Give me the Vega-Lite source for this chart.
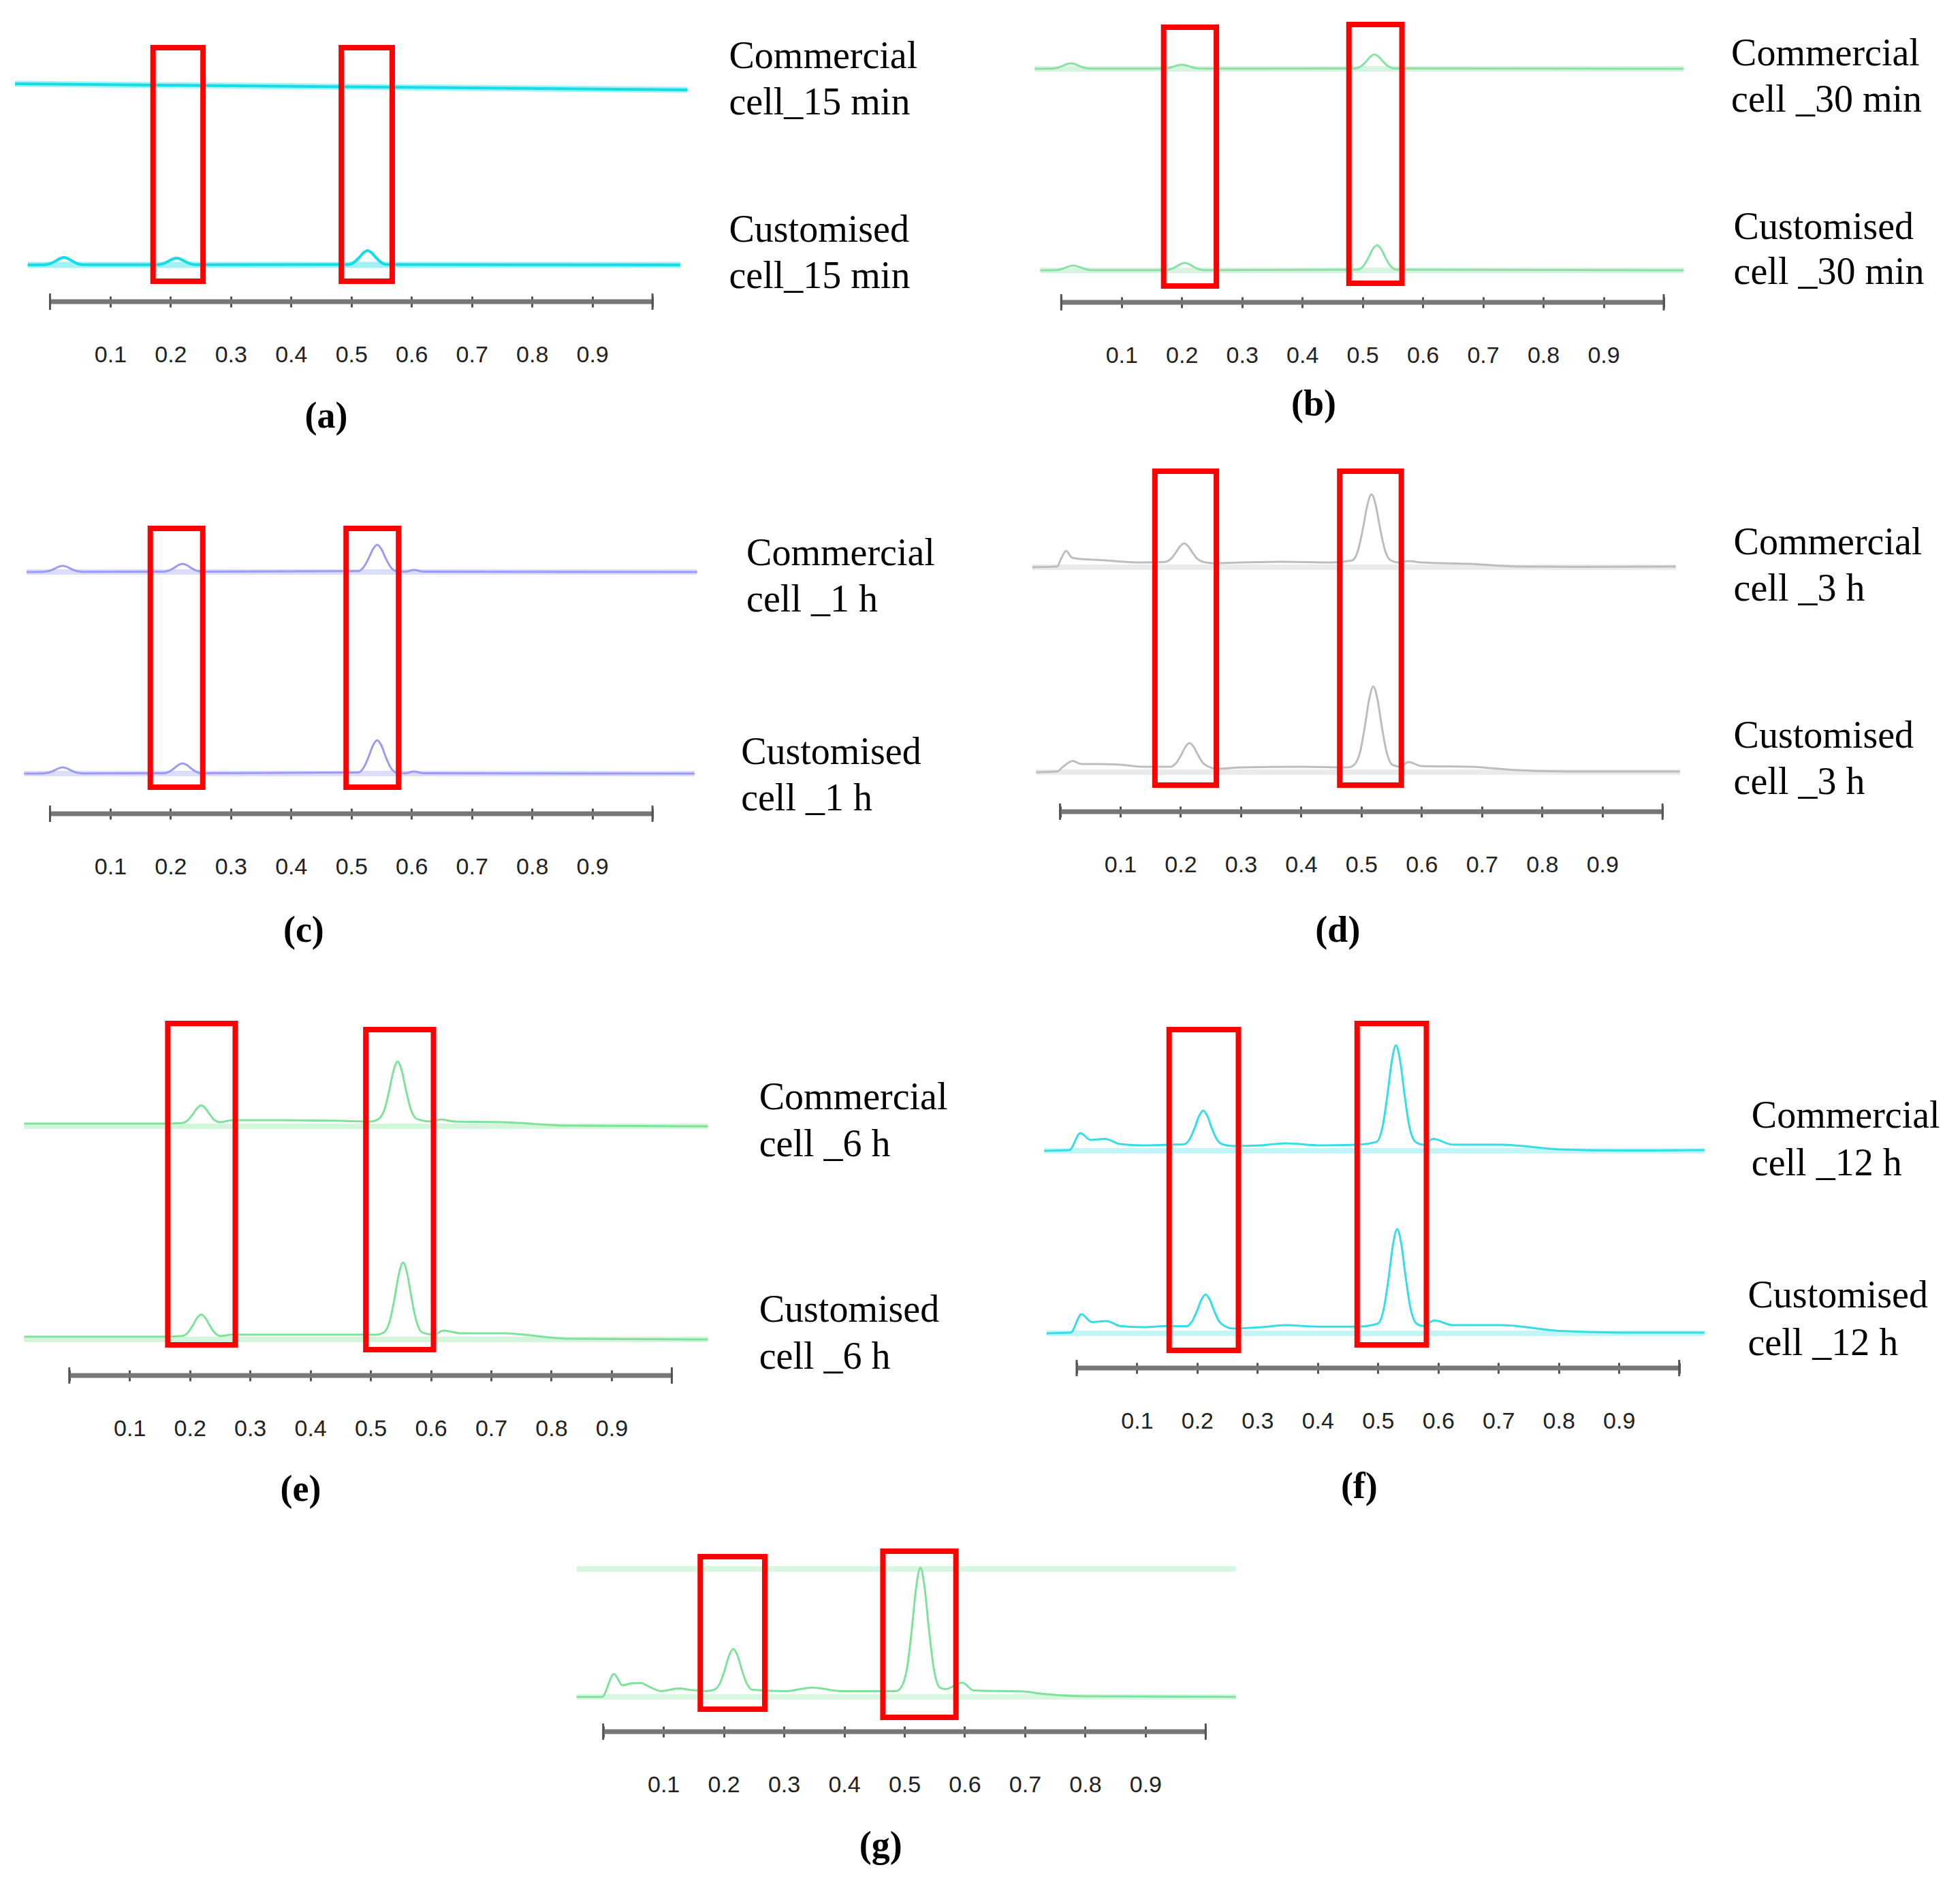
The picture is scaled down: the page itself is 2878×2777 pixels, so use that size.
{
"$schema": "https://vega.github.io/schema/vega-lite/v6.json",
"padding": 0,
"spacing": 0,
"background": "white",
"config": {
  "view": {"stroke": null},
  "axisX": {"domain": false, "grid": false, "tickSize": 16, "tickWidth": 3, "tickColor": "#555555", "labelPadding": 53, "labelFont": "Liberation Sans", "labelFontSize": 34, "labelColor": "#222222", "labelFlush": false, "labelOverlap": false},
  "text": {"font": "Liberation Serif", "fontSize": 56, "align": "left", "baseline": "middle", "color": "#000000"}
},
"vconcat": [
{"spacing": 0, "hconcat": [
{
 "width": 1440, "height": 665,
 "encoding": {
  "x": {"field": "x", "type": "quantitative", "title": null, "scale": {"domain": [-0.083, 1.5447], "nice": false, "zero": false}, "axis": {"values": [0,0.1,0.2,0.3,0.4,0.5,0.6,0.7,0.8,0.9,1], "labelExpr": "datum.value < 0.05 || datum.value > 0.95 ? '' : format(datum.value, '.1f')", "offset": -230}},
  "y": {"field": "y", "type": "quantitative", "scale": {"domain": [-222, 443], "nice": false, "zero": false}, "axis": null}
 },
 "layer": [
  {"data": {"values": [{"s":"C","x":-0.058,"y":320},{"s":"C","x":1.058,"y":311},{"s":"U","x":-0.037,"y":54},{"s":"U","x":1.046,"y":54}]},
   "mark": {"type": "line", "color": "#14DCE6", "strokeWidth": 9, "opacity": 0.4}, "encoding": {"detail": {"field": "s", "type": "nominal"}}},
  {"data": {"values": [
    {"s":"C","x":-0.058,"y":320},{"s":"C","x":0.5,"y":315.5},{"s":"C","x":1.058,"y":311},
    {"s":"U","x":-0.037,"y":54},{"s":"U","x":-0.009,"y":54.3},{"s":"U","x":0.001,"y":56},{"s":"U","x":0.009,"y":59.6},{"s":"U","x":0.016,"y":63.2},{"s":"U","x":0.023,"y":65},{"s":"U","x":0.030,"y":63.2},{"s":"U","x":0.037,"y":59.6},{"s":"U","x":0.045,"y":56},{"s":"U","x":0.055,"y":54.3},
    {"s":"U","x":0.178,"y":54.3},{"s":"U","x":0.188,"y":55.9},{"s":"U","x":0.196,"y":59.1},{"s":"U","x":0.203,"y":62.4},{"s":"U","x":0.21,"y":64},{"s":"U","x":0.217,"y":62.4},{"s":"U","x":0.224,"y":59.1},{"s":"U","x":0.232,"y":55.9},{"s":"U","x":0.242,"y":54.3},
    {"s":"U","x":0.495,"y":54.6},{"s":"U","x":0.505,"y":58},{"s":"U","x":0.513,"y":64.7},{"s":"U","x":0.52,"y":71.6},{"s":"U","x":0.527,"y":75},{"s":"U","x":0.534,"y":71.6},{"s":"U","x":0.541,"y":64.7},{"s":"U","x":0.549,"y":58},{"s":"U","x":0.559,"y":54.6},{"s":"U","x":1.046,"y":54}]},
   "mark": {"type": "line", "color": "#12DDE6", "strokeWidth": 4, "interpolate": "monotone"}, "encoding": {"detail": {"field": "s", "type": "nominal"}}},
  {"data": {"values": [{"x":0.171,"x2":0.254,"y":30,"y2":373},{"x":0.4835,"x2":0.568,"y":30,"y2":373}]},
   "mark": {"type": "rect", "filled": false, "stroke": "#FF0000", "strokeWidth": 8}, "encoding": {"x2": {"field": "x2"}, "y2": {"field": "y2"}}},
  {"data": {"values": [{"x":0,"x2":1,"y":0}]}, "mark": {"type": "rule", "color": "#777777", "strokeWidth": 7}, "encoding": {"x2": {"field": "x2"}}},
  {"data": {"values": [{"x":0,"y":-12,"y2":12},{"x":1,"y":-12,"y2":12}]}, "mark": {"type": "rule", "color": "#555555", "strokeWidth": 3}, "encoding": {"y2": {"field": "y2"}}},
  {"data": {"values": [{"x":1.127,"y":360,"label":"Commercial"},{"x":1.127,"y":292,"label":"cell_15 min"},{"x":1.127,"y":105,"label":"Customised"},{"x":1.127,"y":37,"label":"cell_15 min"}]},
   "mark": {"type": "text"}, "encoding": {"text": {"field": "label"}}},
  {"data": {"values": [{"x":0.4585,"y":-169,"label":"(a)"}]}, "mark": {"type": "text", "fontWeight": "bold", "align": "center", "fontSize": 54}, "encoding": {"text": {"field": "label"}}}
 ]
},
{
 "width": 1438, "height": 665,
 "encoding": {
  "x": {"field": "x", "type": "quantitative", "title": null, "scale": {"domain": [-0.1337, 1.4917], "nice": false, "zero": false}, "axis": {"values": [0,0.1,0.2,0.3,0.4,0.5,0.6,0.7,0.8,0.9,1], "labelExpr": "datum.value < 0.05 || datum.value > 0.95 ? '' : format(datum.value, '.1f')", "offset": -229}},
  "y": {"field": "y", "type": "quantitative", "scale": {"domain": [-221, 444], "nice": false, "zero": false}, "axis": null}
 },
 "layer": [
  {"data": {"values": [{"s":"C","x":-0.044,"y":343},{"s":"C","x":1.033,"y":343},{"s":"U","x":-0.035,"y":47},{"s":"U","x":1.033,"y":47}]},
   "mark": {"type": "line", "color": "#86E3A4", "strokeWidth": 8, "opacity": 0.35}, "encoding": {"detail": {"field": "s", "type": "nominal"}}},
  {"data": {"values": [
    {"s":"C","x":-0.044,"y":343},{"s":"C","x":-0.016,"y":343.2},{"s":"C","x":-0.006,"y":344.5},{"s":"C","x":0.002,"y":347.1},{"s":"C","x":0.009,"y":349.7},{"s":"C","x":0.016,"y":351},{"s":"C","x":0.023,"y":349.7},{"s":"C","x":0.030,"y":347.1},{"s":"C","x":0.038,"y":344.5},{"s":"C","x":0.048,"y":343.2},
    {"s":"C","x":0.168,"y":343.2},{"s":"C","x":0.178,"y":344.1},{"s":"C","x":0.186,"y":346.1},{"s":"C","x":0.193,"y":348},{"s":"C","x":0.2,"y":349},{"s":"C","x":0.207,"y":348},{"s":"C","x":0.214,"y":346.1},{"s":"C","x":0.222,"y":344.1},{"s":"C","x":0.232,"y":343.2},
    {"s":"C","x":0.488,"y":343.6},{"s":"C","x":0.498,"y":347},{"s":"C","x":0.506,"y":353.7},{"s":"C","x":0.513,"y":360.6},{"s":"C","x":0.52,"y":364},{"s":"C","x":0.527,"y":360.6},{"s":"C","x":0.534,"y":353.7},{"s":"C","x":0.542,"y":347},{"s":"C","x":0.552,"y":343.6},{"s":"C","x":1.033,"y":343},
    {"s":"U","x":-0.035,"y":47},{"s":"U","x":-0.012,"y":47.2},{"s":"U","x":-0.002,"y":48.3},{"s":"U","x":0.006,"y":50.6},{"s":"U","x":0.013,"y":52.9},{"s":"U","x":0.02,"y":54},{"s":"U","x":0.027,"y":52.9},{"s":"U","x":0.034,"y":50.6},{"s":"U","x":0.042,"y":48.3},{"s":"U","x":0.052,"y":47.2},
    {"s":"U","x":0.173,"y":47.3},{"s":"U","x":0.183,"y":49.1},{"s":"U","x":0.191,"y":52.6},{"s":"U","x":0.198,"y":56.2},{"s":"U","x":0.205,"y":58},{"s":"U","x":0.212,"y":56.2},{"s":"U","x":0.219,"y":52.6},{"s":"U","x":0.227,"y":49.1},{"s":"U","x":0.237,"y":47.3},
    {"s":"U","x":0.492,"y":48.1},{"s":"U","x":0.502,"y":54},{"s":"U","x":0.51,"y":65.9},{"s":"U","x":0.517,"y":78.1},{"s":"U","x":0.524,"y":84},{"s":"U","x":0.531,"y":78.1},{"s":"U","x":0.538,"y":65.9},{"s":"U","x":0.546,"y":54},{"s":"U","x":0.556,"y":48.1},{"s":"U","x":1.033,"y":47}]},
   "mark": {"type": "line", "color": "#86E3A4", "strokeWidth": 3, "interpolate": "monotone"}, "encoding": {"detail": {"field": "s", "type": "nominal"}}},
  {"data": {"values": [{"x":0.170,"x2":0.2575,"y":24,"y2":404},{"x":0.4775,"x2":0.5655,"y":28,"y2":408}]},
   "mark": {"type": "rect", "filled": false, "stroke": "#FF0000", "strokeWidth": 8}, "encoding": {"x2": {"field": "x2"}, "y2": {"field": "y2"}}},
  {"data": {"values": [{"x":0,"x2":1,"y":0}]}, "mark": {"type": "rule", "color": "#777777", "strokeWidth": 7}, "encoding": {"x2": {"field": "x2"}}},
  {"data": {"values": [{"x":0,"y":-12,"y2":12},{"x":1,"y":-12,"y2":12}]}, "mark": {"type": "rule", "color": "#555555", "strokeWidth": 3}, "encoding": {"y2": {"field": "y2"}}},
  {"data": {"values": [{"x":1.112,"y":365,"label":"Commercial"},{"x":1.112,"y":297,"label":"cell _30 min"},{"x":1.116,"y":110,"label":"Customised"},{"x":1.116,"y":44,"label":"cell _30 min"}]},
   "mark": {"type": "text"}, "encoding": {"text": {"field": "label"}}},
  {"data": {"values": [{"x":0.419,"y":-150,"label":"(b)"}]}, "mark": {"type": "text", "fontWeight": "bold", "align": "center", "fontSize": 54}, "encoding": {"text": {"field": "label"}}}
 ]
}
]},
{"spacing": 0, "hconcat": [
{
 "width": 1440, "height": 775,
 "encoding": {
  "x": {"field": "x", "type": "quantitative", "title": null, "scale": {"domain": [-0.083, 1.5447], "nice": false, "zero": false}, "axis": {"values": [0,0.1,0.2,0.3,0.4,0.5,0.6,0.7,0.8,0.9,1], "labelExpr": "datum.value < 0.05 || datum.value > 0.95 ? '' : format(datum.value, '.1f')", "offset": -253}},
  "y": {"field": "y", "type": "quantitative", "scale": {"domain": [-245, 530], "nice": false, "zero": false}, "axis": null}
 },
 "layer": [
  {"data": {"values": [{"s":"C","x":-0.039,"y":355},{"s":"C","x":1.074,"y":355},{"s":"U","x":-0.043,"y":59},{"s":"U","x":1.07,"y":59}]},
   "mark": {"type": "line", "color": "#9B9BF5", "strokeWidth": 8, "opacity": 0.35}, "encoding": {"detail": {"field": "s", "type": "nominal"}}},
  {"data": {"values": [
    {"s":"C","x":-0.039,"y":355},{"s":"C","x":-0.011,"y":355.3},{"s":"C","x":-0.001,"y":356.7},{"s":"C","x":0.007,"y":359.6},{"s":"C","x":0.014,"y":362.6},{"s":"C","x":0.021,"y":364},{"s":"C","x":0.028,"y":362.6},{"s":"C","x":0.035,"y":359.6},{"s":"C","x":0.043,"y":356.7},{"s":"C","x":0.053,"y":355.3},
    {"s":"C","x":0.188,"y":355.4},{"s":"C","x":0.198,"y":357.3},{"s":"C","x":0.206,"y":361.1},{"s":"C","x":0.213,"y":365.1},{"s":"C","x":0.22,"y":367},{"s":"C","x":0.227,"y":365.1},{"s":"C","x":0.234,"y":361.1},{"s":"C","x":0.242,"y":357.3},{"s":"C","x":0.252,"y":355.4},
    {"s":"C","x":0.511,"y":356.2},{"s":"C","x":0.521,"y":362.6},{"s":"C","x":0.529,"y":375.4},{"s":"C","x":0.536,"y":388.6},{"s":"C","x":0.543,"y":395},{"s":"C","x":0.55,"y":388.6},{"s":"C","x":0.557,"y":375.4},{"s":"C","x":0.565,"y":362.6},{"s":"C","x":0.575,"y":356.2},
    {"s":"C","x":0.59,"y":355.5},{"s":"C","x":0.604,"y":358},{"s":"C","x":0.62,"y":355.5},{"s":"C","x":1.074,"y":355},
    {"s":"U","x":-0.043,"y":59},{"s":"U","x":-0.011,"y":59.3},{"s":"U","x":-0.001,"y":60.7},{"s":"U","x":0.007,"y":63.6},{"s":"U","x":0.014,"y":66.6},{"s":"U","x":0.021,"y":68},{"s":"U","x":0.028,"y":66.6},{"s":"U","x":0.035,"y":63.6},{"s":"U","x":0.043,"y":60.7},{"s":"U","x":0.053,"y":59.3},
    {"s":"U","x":0.188,"y":59.5},{"s":"U","x":0.198,"y":61.9},{"s":"U","x":0.206,"y":66.7},{"s":"U","x":0.213,"y":71.6},{"s":"U","x":0.22,"y":74},{"s":"U","x":0.227,"y":71.6},{"s":"U","x":0.234,"y":66.7},{"s":"U","x":0.242,"y":61.9},{"s":"U","x":0.252,"y":59.5},
    {"s":"U","x":0.511,"y":60.5},{"s":"U","x":0.521,"y":68.3},{"s":"U","x":0.529,"y":84},{"s":"U","x":0.536,"y":100.2},{"s":"U","x":0.543,"y":108},{"s":"U","x":0.55,"y":100.2},{"s":"U","x":0.557,"y":84},{"s":"U","x":0.565,"y":68.3},{"s":"U","x":0.575,"y":60.5},
    {"s":"U","x":0.59,"y":59.5},{"s":"U","x":0.604,"y":62},{"s":"U","x":0.62,"y":59.5},{"s":"U","x":1.07,"y":59}]},
   "mark": {"type": "line", "color": "#9B9BF5", "strokeWidth": 3, "interpolate": "monotone"}, "encoding": {"detail": {"field": "s", "type": "nominal"}}},
  {"data": {"values": [{"x":0.1665,"x2":0.2535,"y":39,"y2":419},{"x":0.4915,"x2":0.5785,"y":39,"y2":419}]},
   "mark": {"type": "rect", "filled": false, "stroke": "#FF0000", "strokeWidth": 8}, "encoding": {"x2": {"field": "x2"}, "y2": {"field": "y2"}}},
  {"data": {"values": [{"x":0,"x2":1,"y":0}]}, "mark": {"type": "rule", "color": "#777777", "strokeWidth": 7}, "encoding": {"x2": {"field": "x2"}}},
  {"data": {"values": [{"x":0,"y":-12,"y2":12},{"x":1,"y":-12,"y2":12}]}, "mark": {"type": "rule", "color": "#555555", "strokeWidth": 3}, "encoding": {"y2": {"field": "y2"}}},
  {"data": {"values": [{"x":1.156,"y":382,"label":"Commercial"},{"x":1.156,"y":314,"label":"cell _1 h"},{"x":1.147,"y":90,"label":"Customised"},{"x":1.147,"y":22,"label":"cell _1 h"}]},
   "mark": {"type": "text"}, "encoding": {"text": {"field": "label"}}},
  {"data": {"values": [{"x":0.421,"y":-172,"label":"(c)"}]}, "mark": {"type": "text", "fontWeight": "bold", "align": "center", "fontSize": 54}, "encoding": {"text": {"field": "label"}}}
 ]
},
{
 "width": 1438, "height": 775,
 "encoding": {
  "x": {"field": "x", "type": "quantitative", "title": null, "scale": {"domain": [-0.1317, 1.4937], "nice": false, "zero": false}, "axis": {"values": [0,0.1,0.2,0.3,0.4,0.5,0.6,0.7,0.8,0.9,1], "labelExpr": "datum.value < 0.05 || datum.value > 0.95 ? '' : format(datum.value, '.1f')", "offset": -256}},
  "y": {"field": "y", "type": "quantitative", "scale": {"domain": [-248, 527], "nice": false, "zero": false}, "axis": null}
 },
 "layer": [
  {"data": {"values": [{"s":"C","x":-0.046,"y":359},{"s":"C","x":1.022,"y":359},{"s":"U","x":-0.04,"y":58},{"s":"U","x":1.029,"y":58}]},
   "mark": {"type": "line", "color": "#C4C4C4", "strokeWidth": 8, "opacity": 0.35}, "encoding": {"detail": {"field": "s", "type": "nominal"}}},
  {"data": {"values": [
    {"s":"C","x":-0.046,"y":359},{"s":"C","x":-0.005,"y":360},{"s":"C","x":0.002,"y":372},{"s":"C","x":0.01,"y":383},{"s":"C","x":0.02,"y":373},{"s":"C","x":0.035,"y":371},{"s":"C","x":0.06,"y":370},{"s":"C","x":0.09,"y":368},{"s":"C","x":0.137,"y":366},
    {"s":"C","x":0.174,"y":366.8},{"s":"C","x":0.184,"y":371.3},{"s":"C","x":0.192,"y":380.3},{"s":"C","x":0.199,"y":389.5},{"s":"C","x":0.206,"y":394},{"s":"C","x":0.213,"y":389.5},{"s":"C","x":0.22,"y":380.3},{"s":"C","x":0.228,"y":371.3},{"s":"C","x":0.238,"y":366.8},
    {"s":"C","x":0.254,"y":365},{"s":"C","x":0.3,"y":366},{"s":"C","x":0.37,"y":367},{"s":"C","x":0.45,"y":366},
    {"s":"C","x":0.485,"y":369},{"s":"C","x":0.495,"y":385},{"s":"C","x":0.503,"y":417},{"s":"C","x":0.51,"y":450},{"s":"C","x":0.517,"y":466},{"s":"C","x":0.524,"y":450},{"s":"C","x":0.531,"y":417},{"s":"C","x":0.539,"y":385},{"s":"C","x":0.549,"y":369},
    {"s":"C","x":0.562,"y":366},{"s":"C","x":0.578,"y":368},{"s":"C","x":0.6,"y":366},{"s":"C","x":0.68,"y":364},{"s":"C","x":0.76,"y":360},{"s":"C","x":0.85,"y":359.5},{"s":"C","x":1.022,"y":360},
    {"s":"U","x":-0.04,"y":58},{"s":"U","x":-0.005,"y":59},{"s":"U","x":0.005,"y":66},{"s":"U","x":0.021,"y":74.6},{"s":"U","x":0.035,"y":70},{"s":"U","x":0.06,"y":70},{"s":"U","x":0.1,"y":69},{"s":"U","x":0.14,"y":66},
    {"s":"U","x":0.183,"y":66},{"s":"U","x":0.193,"y":71.8},{"s":"U","x":0.201,"y":83.2},{"s":"U","x":0.208,"y":95},{"s":"U","x":0.215,"y":100.7},{"s":"U","x":0.222,"y":95},{"s":"U","x":0.229,"y":83.2},{"s":"U","x":0.237,"y":71.8},{"s":"U","x":0.247,"y":66},
    {"s":"U","x":0.26,"y":63},{"s":"U","x":0.3,"y":65},{"s":"U","x":0.4,"y":66},{"s":"U","x":0.478,"y":65},
    {"s":"U","x":0.488,"y":68.6},{"s":"U","x":0.498,"y":87.6},{"s":"U","x":0.506,"y":125.5},{"s":"U","x":0.513,"y":164.7},{"s":"U","x":0.52,"y":183.7},{"s":"U","x":0.527,"y":164.7},{"s":"U","x":0.534,"y":125.5},{"s":"U","x":0.542,"y":87.6},{"s":"U","x":0.552,"y":68.6},
    {"s":"U","x":0.565,"y":66},{"s":"U","x":0.578,"y":73},{"s":"U","x":0.6,"y":67},{"s":"U","x":0.68,"y":66},{"s":"U","x":0.76,"y":61},{"s":"U","x":0.85,"y":59},{"s":"U","x":1.029,"y":59}]},
   "mark": {"type": "line", "color": "#BDBDBD", "strokeWidth": 3, "interpolate": "monotone"}, "encoding": {"detail": {"field": "s", "type": "nominal"}}},
  {"data": {"values": [{"x":0.1575,"x2":0.2595,"y":39,"y2":500},{"x":0.4642,"x2":0.5665,"y":39,"y2":500}]},
   "mark": {"type": "rect", "filled": false, "stroke": "#FF0000", "strokeWidth": 8}, "encoding": {"x2": {"field": "x2"}, "y2": {"field": "y2"}}},
  {"data": {"values": [{"x":0,"x2":1,"y":0}]}, "mark": {"type": "rule", "color": "#777777", "strokeWidth": 7}, "encoding": {"x2": {"field": "x2"}}},
  {"data": {"values": [{"x":0,"y":-12,"y2":12},{"x":1,"y":-12,"y2":12}]}, "mark": {"type": "rule", "color": "#555555", "strokeWidth": 3}, "encoding": {"y2": {"field": "y2"}}},
  {"data": {"values": [{"x":1.118,"y":395,"label":"Commercial"},{"x":1.118,"y":327,"label":"cell _3 h"},{"x":1.118,"y":111,"label":"Customised"},{"x":1.118,"y":43,"label":"cell _3 h"}]},
   "mark": {"type": "text"}, "encoding": {"text": {"field": "label"}}},
  {"data": {"values": [{"x":0.461,"y":-175,"label":"(d)"}]}, "mark": {"type": "text", "fontWeight": "bold", "align": "center", "fontSize": 54}, "encoding": {"text": {"field": "label"}}}
 ]
}
]},
{"spacing": 0, "hconcat": [
{
 "width": 1440, "height": 805,
 "encoding": {
  "x": {"field": "x", "type": "quantitative", "title": null, "scale": {"domain": [-0.115, 1.5127], "nice": false, "zero": false}, "axis": {"values": [0,0.1,0.2,0.3,0.4,0.5,0.6,0.7,0.8,0.9,1], "labelExpr": "datum.value < 0.05 || datum.value > 0.95 ? '' : format(datum.value, '.1f')", "offset": -233}},
  "y": {"field": "y", "type": "quantitative", "scale": {"domain": [-225, 580], "nice": false, "zero": false}, "axis": null}
 },
 "layer": [
  {"data": {"values": [{"s":"C","x":-0.075,"y":366},{"s":"C","x":1.06,"y":366},{"s":"U","x":-0.075,"y":53},{"s":"U","x":1.06,"y":53}]},
   "mark": {"type": "line", "color": "#7DE39A", "strokeWidth": 8, "opacity": 0.35}, "encoding": {"detail": {"field": "s", "type": "nominal"}}},
  {"data": {"values": [
    {"s":"C","x":-0.075,"y":370},{"s":"C","x":0.15,"y":370},
    {"s":"C","x":0.187,"y":370.8},{"s":"C","x":0.197,"y":375.1},{"s":"C","x":0.205,"y":383.6},{"s":"C","x":0.212,"y":392.4},{"s":"C","x":0.219,"y":396.7},{"s":"C","x":0.226,"y":392.4},{"s":"C","x":0.233,"y":383.6},{"s":"C","x":0.241,"y":375.1},{"s":"C","x":0.251,"y":372},
    {"s":"C","x":0.27,"y":375},{"s":"C","x":0.35,"y":375},{"s":"C","x":0.45,"y":374},{"s":"C","x":0.5,"y":373},
    {"s":"C","x":0.513,"y":376.6},{"s":"C","x":0.523,"y":390.5},{"s":"C","x":0.531,"y":418.4},{"s":"C","x":0.538,"y":447.1},{"s":"C","x":0.545,"y":461},{"s":"C","x":0.552,"y":447.1},{"s":"C","x":0.559,"y":418.4},{"s":"C","x":0.567,"y":390.5},{"s":"C","x":0.577,"y":376.6},
    {"s":"C","x":0.6,"y":373},{"s":"C","x":0.616,"y":376},{"s":"C","x":0.64,"y":373},{"s":"C","x":0.72,"y":372},{"s":"C","x":0.83,"y":367},{"s":"C","x":1.06,"y":366},
    {"s":"U","x":-0.075,"y":57},{"s":"U","x":0.15,"y":57},
    {"s":"U","x":0.187,"y":58},{"s":"U","x":0.197,"y":63.2},{"s":"U","x":0.205,"y":73.6},{"s":"U","x":0.212,"y":84.3},{"s":"U","x":0.219,"y":89.5},{"s":"U","x":0.226,"y":84.3},{"s":"U","x":0.233,"y":73.6},{"s":"U","x":0.241,"y":63.2},{"s":"U","x":0.251,"y":58},
    {"s":"U","x":0.27,"y":60},{"s":"U","x":0.35,"y":60},{"s":"U","x":0.45,"y":60},{"s":"U","x":0.51,"y":60},
    {"s":"U","x":0.522,"y":63.2},{"s":"U","x":0.532,"y":80.1},{"s":"U","x":0.54,"y":114},{"s":"U","x":0.547,"y":149},{"s":"U","x":0.554,"y":166},{"s":"U","x":0.561,"y":149},{"s":"U","x":0.568,"y":114},{"s":"U","x":0.576,"y":80.1},{"s":"U","x":0.586,"y":63.2},
    {"s":"U","x":0.605,"y":60},{"s":"U","x":0.621,"y":66},{"s":"U","x":0.65,"y":62},{"s":"U","x":0.72,"y":62},{"s":"U","x":0.83,"y":54},{"s":"U","x":1.06,"y":53}]},
   "mark": {"type": "line", "color": "#7DE39A", "strokeWidth": 3, "interpolate": "monotone"}, "encoding": {"detail": {"field": "s", "type": "nominal"}}},
  {"data": {"values": [{"x":0.1635,"x2":0.2755,"y":45,"y2":517},{"x":0.4922,"x2":0.6045,"y":38,"y2":508}]},
   "mark": {"type": "rect", "filled": false, "stroke": "#FF0000", "strokeWidth": 8}, "encoding": {"x2": {"field": "x2"}, "y2": {"field": "y2"}}},
  {"data": {"values": [{"x":0,"x2":1,"y":0}]}, "mark": {"type": "rule", "color": "#777777", "strokeWidth": 7}, "encoding": {"x2": {"field": "x2"}}},
  {"data": {"values": [{"x":0,"y":-12,"y2":12},{"x":1,"y":-12,"y2":12}]}, "mark": {"type": "rule", "color": "#555555", "strokeWidth": 3}, "encoding": {"y2": {"field": "y2"}}},
  {"data": {"values": [{"x":1.145,"y":408,"label":"Commercial"},{"x":1.145,"y":339,"label":"cell _6 h"},{"x":1.145,"y":96,"label":"Customised"},{"x":1.145,"y":27,"label":"cell _6 h"}]},
   "mark": {"type": "text"}, "encoding": {"text": {"field": "label"}}},
  {"data": {"values": [{"x":0.384,"y":-168,"label":"(e)"}]}, "mark": {"type": "text", "fontWeight": "bold", "align": "center", "fontSize": 54}, "encoding": {"text": {"field": "label"}}}
 ]
},
{
 "width": 1438, "height": 805,
 "encoding": {
  "x": {"field": "x", "type": "quantitative", "title": null, "scale": {"domain": [-0.1593, 1.4661], "nice": false, "zero": false}, "axis": {"values": [0,0.1,0.2,0.3,0.4,0.5,0.6,0.7,0.8,0.9,1], "labelExpr": "datum.value < 0.05 || datum.value > 0.95 ? '' : format(datum.value, '.1f')", "offset": -244}},
  "y": {"field": "y", "type": "quantitative", "scale": {"domain": [-236, 569], "nice": false, "zero": false}, "axis": null}
 },
 "layer": [
  {"data": {"values": [{"s":"C","x":-0.054,"y":319},{"s":"C","x":1.042,"y":319},{"s":"U","x":-0.05,"y":51},{"s":"U","x":1.042,"y":51}]},
   "mark": {"type": "line", "color": "#35DDE6", "strokeWidth": 8, "opacity": 0.3}, "encoding": {"detail": {"field": "s", "type": "nominal"}}},
  {"data": {"values": [
    {"s":"C","x":-0.054,"y":319},{"s":"C","x":-0.012,"y":320},{"s":"C","x":0.006,"y":345},{"s":"C","x":0.023,"y":335},{"s":"C","x":0.047,"y":336.5},{"s":"C","x":0.072,"y":329},{"s":"C","x":0.108,"y":327},{"s":"C","x":0.152,"y":328},
    {"s":"C","x":0.178,"y":328.5},{"s":"C","x":0.188,"y":336.7},{"s":"C","x":0.196,"y":353},{"s":"C","x":0.203,"y":369.8},{"s":"C","x":0.21,"y":378},{"s":"C","x":0.217,"y":369.8},{"s":"C","x":0.224,"y":353},{"s":"C","x":0.232,"y":336.7},{"s":"C","x":0.242,"y":328.5},
    {"s":"C","x":0.26,"y":326},{"s":"C","x":0.306,"y":327},{"s":"C","x":0.346,"y":330},{"s":"C","x":0.405,"y":327},{"s":"C","x":0.465,"y":328},
    {"s":"C","x":0.498,"y":332.4},{"s":"C","x":0.508,"y":355.7},{"s":"C","x":0.516,"y":402.5},{"s":"C","x":0.523,"y":450.6},{"s":"C","x":0.53,"y":474},{"s":"C","x":0.537,"y":450.6},{"s":"C","x":0.544,"y":402.5},{"s":"C","x":0.552,"y":355.7},{"s":"C","x":0.562,"y":332.4},
    {"s":"C","x":0.575,"y":328},{"s":"C","x":0.592,"y":336.5},{"s":"C","x":0.624,"y":328},{"s":"C","x":0.704,"y":328},{"s":"C","x":0.803,"y":321},{"s":"C","x":0.903,"y":319.5},{"s":"C","x":1.042,"y":320},
    {"s":"U","x":-0.05,"y":51},{"s":"U","x":-0.01,"y":52},{"s":"U","x":0.008,"y":79},{"s":"U","x":0.025,"y":67.6},{"s":"U","x":0.05,"y":69},{"s":"U","x":0.072,"y":61.7},{"s":"U","x":0.108,"y":60},{"s":"U","x":0.152,"y":61.7},
    {"s":"U","x":0.182,"y":61.4},{"s":"U","x":0.192,"y":69.1},{"s":"U","x":0.2,"y":84.5},{"s":"U","x":0.207,"y":100.3},{"s":"U","x":0.214,"y":108},{"s":"U","x":0.221,"y":100.3},{"s":"U","x":0.228,"y":84.5},{"s":"U","x":0.236,"y":69.1},{"s":"U","x":0.246,"y":61.4},
    {"s":"U","x":0.26,"y":58},{"s":"U","x":0.306,"y":60},{"s":"U","x":0.346,"y":63},{"s":"U","x":0.405,"y":60.7},{"s":"U","x":0.465,"y":60.7},
    {"s":"U","x":0.5,"y":65.3},{"s":"U","x":0.51,"y":88.2},{"s":"U","x":0.518,"y":133.9},{"s":"U","x":0.525,"y":181.1},{"s":"U","x":0.532,"y":204},{"s":"U","x":0.539,"y":181.1},{"s":"U","x":0.546,"y":133.9},{"s":"U","x":0.554,"y":88.2},{"s":"U","x":0.564,"y":65.3},
    {"s":"U","x":0.575,"y":61.7},{"s":"U","x":0.594,"y":70},{"s":"U","x":0.624,"y":63},{"s":"U","x":0.704,"y":63},{"s":"U","x":0.803,"y":54.4},{"s":"U","x":0.903,"y":52},{"s":"U","x":1.042,"y":52}]},
   "mark": {"type": "line", "color": "#35DDE6", "strokeWidth": 3, "interpolate": "monotone"}, "encoding": {"detail": {"field": "s", "type": "nominal"}}},
  {"data": {"values": [{"x":0.1535,"x2":0.2685,"y":26,"y2":497},{"x":0.4655,"x2":0.5805,"y":34,"y2":506}]},
   "mark": {"type": "rect", "filled": false, "stroke": "#FF0000", "strokeWidth": 8}, "encoding": {"x2": {"field": "x2"}, "y2": {"field": "y2"}}},
  {"data": {"values": [{"x":0,"x2":1,"y":0}]}, "mark": {"type": "rule", "color": "#777777", "strokeWidth": 7}, "encoding": {"x2": {"field": "x2"}}},
  {"data": {"values": [{"x":0,"y":-12,"y2":12},{"x":1,"y":-12,"y2":12}]}, "mark": {"type": "rule", "color": "#555555", "strokeWidth": 3}, "encoding": {"y2": {"field": "y2"}}},
  {"data": {"values": [{"x":1.120,"y":370,"label":"Commercial"},{"x":1.120,"y":300,"label":"cell _12 h"},{"x":1.114,"y":106,"label":"Customised"},{"x":1.114,"y":36,"label":"cell _12 h"}]},
   "mark": {"type": "text"}, "encoding": {"text": {"field": "label"}}},
  {"data": {"values": [{"x":0.469,"y":-175,"label":"(f)"}]}, "mark": {"type": "text", "fontWeight": "bold", "align": "center", "fontSize": 54}, "encoding": {"text": {"field": "label"}}}
 ]
}
]},
{
 "width": 2878, "height": 532,
 "encoding": {
  "x": {"field": "x", "type": "quantitative", "title": null, "scale": {"domain": [-1.0011, 2.252], "nice": false, "zero": false}, "axis": {"values": [0,0.1,0.2,0.3,0.4,0.5,0.6,0.7,0.8,0.9,1], "labelExpr": "datum.value < 0.05 || datum.value > 0.95 ? '' : format(datum.value, '.1f')", "offset": -242}},
  "y": {"field": "y", "type": "quantitative", "scale": {"domain": [-234, 298], "nice": false, "zero": false}, "axis": null}
 },
 "layer": [
  {"data": {"values": [{"s":"T","x":-0.044,"y":239},{"s":"T","x":1.05,"y":239},{"s":"B","x":-0.044,"y":51},{"s":"B","x":1.05,"y":51}]},
   "mark": {"type": "line", "color": "#7DE39A", "strokeWidth": 8, "opacity": 0.3}, "encoding": {"detail": {"field": "s", "type": "nominal"}}},
  {"data": {"values": [
    {"s":"G","x":-0.044,"y":51},{"s":"G","x":-0.002,"y":51},{"s":"G","x":0.018,"y":84.7},{"s":"G","x":0.032,"y":68},{"s":"G","x":0.047,"y":71},{"s":"G","x":0.062,"y":71.6},{"s":"G","x":0.077,"y":65.8},{"s":"G","x":0.096,"y":59.6},{"s":"G","x":0.126,"y":63.4},{"s":"G","x":0.145,"y":61.3},{"s":"G","x":0.17,"y":59.6},
    {"s":"G","x":0.184,"y":61.5},{"s":"G","x":0.194,"y":71.4},{"s":"G","x":0.202,"y":91.2},{"s":"G","x":0.209,"y":111.7},{"s":"G","x":0.216,"y":121.6},{"s":"G","x":0.223,"y":111.7},{"s":"G","x":0.23,"y":91.2},{"s":"G","x":0.238,"y":71.4},{"s":"G","x":0.248,"y":61.5},
    {"s":"G","x":0.304,"y":59.6},{"s":"G","x":0.347,"y":64.8},{"s":"G","x":0.395,"y":59.6},{"s":"G","x":0.486,"y":59.6},
    {"s":"G","x":0.4945,"y":65},{"s":"G","x":0.5045,"y":94},{"s":"G","x":0.5125,"y":152},{"s":"G","x":0.5195,"y":211.6},{"s":"G","x":0.5265,"y":241},{"s":"G","x":0.5335,"y":211.6},{"s":"G","x":0.5405,"y":152},{"s":"G","x":0.5485,"y":94},{"s":"G","x":0.5585,"y":65},
    {"s":"G","x":0.568,"y":62.4},{"s":"G","x":0.596,"y":72},{"s":"G","x":0.615,"y":60.6},{"s":"G","x":0.698,"y":59},{"s":"G","x":0.729,"y":55.5},{"s":"G","x":0.797,"y":52},{"s":"G","x":1.05,"y":51}]},
   "mark": {"type": "line", "color": "#7DE39A", "strokeWidth": 3, "interpolate": "monotone"}, "encoding": {"detail": {"field": "s", "type": "nominal"}}},
  {"data": {"values": [{"x":0.1612,"x2":0.2682,"y":33,"y2":257},{"x":0.4643,"x2":0.5855,"y":21,"y2":265}]},
   "mark": {"type": "rect", "filled": false, "stroke": "#FF0000", "strokeWidth": 8}, "encoding": {"x2": {"field": "x2"}, "y2": {"field": "y2"}}},
  {"data": {"values": [{"x":0,"x2":1,"y":0}]}, "mark": {"type": "rule", "color": "#777777", "strokeWidth": 7}, "encoding": {"x2": {"field": "x2"}}},
  {"data": {"values": [{"x":0,"y":-12,"y2":12},{"x":1,"y":-12,"y2":12}]}, "mark": {"type": "rule", "color": "#555555", "strokeWidth": 3}, "encoding": {"y2": {"field": "y2"}}},
  {"data": {"values": [{"x":0.4606,"y":-168,"label":"(g)"}]}, "mark": {"type": "text", "fontWeight": "bold", "align": "center", "fontSize": 54}, "encoding": {"text": {"field": "label"}}}
 ]
}
]
}
